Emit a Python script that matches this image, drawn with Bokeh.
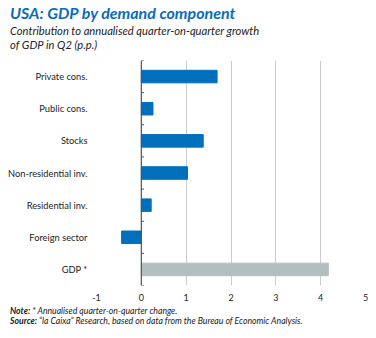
from bokeh.plotting import figure
from bokeh.models import Range1d, FixedTicker, Span, Div
from bokeh.layouts import column
from bokeh.embed import file_html
from bokeh.resources import INLINE

categories = ["Private cons.", "Public cons.", "Stocks", "Non-residential inv.",
              "Residential inv.", "Foreign sector", "GDP *"]
values = [1.69, 0.26, 1.38, 1.03, 0.22, -0.44, 4.17]
x_ticks = [-1, 0, 1, 2, 3, 4, 5]
x_tick_labels = ["-1", "0", "1", "2", "3", "4", "5"]

title = "USA: GDP by demand component"
subtitle = ["Contribution to annualised quarter-on-quarter growth", "of GDP in Q2 (p.p.)"]
note = ("Note:", "* Annualised quarter-on-quarter change.")
source = ("Source:", "\u201cla Caixa\u201d Research, based on data from the Bureau of Economic Analysis.")

BLUE = "#0070BD"
GREY = "#B3BEC1"
colors = [BLUE] * (len(categories) - 1) + [GREY]
FONT = "Lato"

n = len(categories)
ypos = [n - 1 - i for i in range(n)]
bounds = [k - 0.5 for k in range(n + 1)]

W = 376
HEAD, FIG, FOOT = 55, 248, 35

p = figure(width=W, height=FIG, output_backend="svg", toolbar_location=None,
           x_range=Range1d(x_ticks[0], x_ticks[-1]), y_range=Range1d(-0.5, n - 0.5),
           min_border_left=96, min_border_right=11, min_border_top=5,
           min_border_bottom=16, margin=0)
p.outline_line_color = None
p.background_fill_color = "white"
p.border_fill_color = "white"

p.hbar(y=ypos, left=0, right=values, height=0.39, fill_color=colors, line_color=colors)

p.xgrid.ticker = FixedTicker(ticks=x_ticks)
p.xgrid.grid_line_color = "#CCCCCC"
p.xgrid.grid_line_width = 1
p.ygrid.grid_line_color = None

p.add_layout(Span(location=0, dimension="height", line_color="#555555", line_width=1.2))
p.segment(x0=[0] * len(bounds), x1=[0.06] * len(bounds), y0=bounds, y1=bounds,
          line_color="#555555", line_width=1)

p.yaxis.ticker = FixedTicker(ticks=ypos)
p.yaxis.major_label_overrides = {y: c for y, c in zip(ypos, categories)}
p.yaxis.axis_line_color = None
p.yaxis.major_tick_line_color = None
p.yaxis.minor_tick_line_color = None
p.yaxis.major_tick_out = 0
p.yaxis.major_label_standoff = 9
p.yaxis.major_label_text_font = FONT
p.yaxis.major_label_text_font_size = "9.3px"
p.yaxis.major_label_text_color = "#222222"

p.xaxis.ticker = FixedTicker(ticks=x_ticks)
p.xaxis.major_label_overrides = {t: s for t, s in zip(x_ticks, x_tick_labels)}
p.xaxis.axis_line_color = None
p.xaxis.major_tick_line_color = None
p.xaxis.minor_tick_line_color = None
p.xaxis.major_tick_out = 0
p.xaxis.major_label_standoff = 8
p.xaxis.major_label_text_font = FONT
p.xaxis.major_label_text_font_size = "9px"
p.xaxis.major_label_text_color = "#222222"


def span(left, top, html, size, weight="normal", color="#222222", lh="1"):
    return (f'<span style="position:absolute;left:{left}px;top:{top}px;'
            f'font-family:{FONT};font-size:{size}px;font-style:italic;font-weight:{weight};'
            f'color:{color};line-height:{lh};white-space:nowrap">{html}</span>')


head_html = ('<div style="position:relative;width:376px;height:55px">'
             + span(10, 4.8, title, 16, "bold", "#0A6DB8")
             + span(10, 24.1, subtitle[0], 11.2, lh="13.3px")
             + span(10, 37.6, subtitle[1], 11.2, lh="13.3px")
             + '</div>')
foot_html = ('<div style="position:relative;width:376px;height:35px">'
             + span(10, 3.5, f'<b>{note[0]}</b> {note[1]}', 8.7)
             + span(10, 13.5, f'<b>{source[0]}</b> {source[1]}', 8.7)
             + '</div>')

head = Div(text=head_html, width=W, height=HEAD, margin=0)
foot = Div(text=foot_html, width=W, height=FOOT, margin=0)

layout = column(head, p, foot, spacing=0, margin=0)
open("out.html", "w").write(file_html(layout, INLINE))
